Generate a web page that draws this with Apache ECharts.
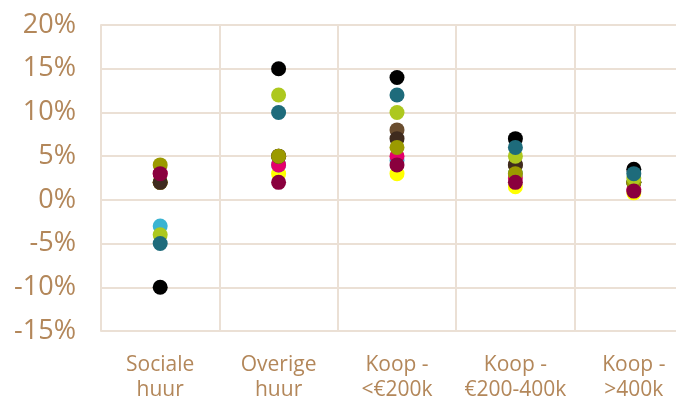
<!DOCTYPE html>
<html>
<head>
<meta charset="utf-8">
<script src="https://cdn.jsdelivr.net/npm/echarts@6/dist/echarts.min.js"></script>
<style>
  html, body { margin: 0; padding: 0; background: #fff; }
  #main { width: 676px; height: 401px; }
</style>
</head>
<body>
<div id="main"></div>
<script>
// categorieen op de x-as
var categories = ['Sociale\nhuur', 'Overige\nhuur', 'Koop -\n<€200k', 'Koop -\n€200-400k', 'Koop -\n>400k'];
var yTicks = [-15, -10, -5, 0, 5, 10, 15, 20];

// waarden per reeks (procenten), in tekenvolgorde
var zwart      = [-10, 15, 14, 7, 3.5];
var geel       = [2, 3, 3, 1.5, 0.8];
var lichtblauw = [-3, 4, 4.5, 3, 2];
var magenta    = [3, 4, 5, 2.5, 1.2];
var bruin      = [2, 5, 8, 4, 2];
var donkerbruin= [2, 5, 7, 4, 2];
var olijf      = [4, 5, 6, 3, 2];
var geelgroen  = [-4, 12, 10, 5, 2.5];
var petrol     = [-5, 10, 12, 6, 3];
var donkerrood = [3, 2, 4, 2, 1];

var textColor = '#b3875a';
var gridColor = '#ebe0d5';

var reeksen = [
  { data: zwart, color: '#000000' },
  { data: geel, color: '#ffff00' },
  { data: lichtblauw, color: '#3ab4d2' },
  { data: magenta, color: '#e4006c' },
  { data: bruin, color: '#6a4d2f' },
  { data: donkerbruin, color: '#3f2b1e' },
  { data: olijf, color: '#9b9a00' },
  { data: geelgroen, color: '#adc81e' },
  { data: petrol, color: '#1e6b7b' },
  { data: donkerrood, color: '#8a003e' }
];

window.onload = function () {
  var myChart = echarts.init(document.getElementById('main'));
  var option = {
    animation: false,
    // laatste categorie loopt buiten beeld door, net als in het origineel
    grid: { left: 101, width: 592, top: 25, bottom: 70, outerBoundsMode: 'none', containLabel: false },
    xAxis: {
      type: 'category',
      data: categories,
      axisLine: { show: true, lineStyle: { color: gridColor, width: 2 } },
      axisTick: { show: false },
      axisLabel: {
        color: textColor,
        fontFamily: 'Open Sans',
        fontSize: 21,
        lineHeight: 25,
        margin: 22,
        interval: 0
      },
      splitLine: { show: true, interval: 0, lineStyle: { color: gridColor, width: 2 } }
    },
    yAxis: {
      type: 'value',
      min: yTicks[0],
      max: yTicks[yTicks.length - 1],
      interval: 5,
      axisLine: { show: true, lineStyle: { color: gridColor, width: 2 } },
      axisTick: { show: false },
      axisLabel: {
        color: textColor,
        fontFamily: 'Open Sans',
        fontSize: 27,
        margin: 25,
        formatter: '{value}%'
      },
      splitLine: { show: true, lineStyle: { color: gridColor, width: 2 } }
    },
    series: reeksen.map(function (r) {
      return {
        type: 'scatter',
        data: r.data,
        symbolSize: 15,
        itemStyle: { color: r.color, opacity: 1 }
      };
    })
  };
  myChart.setOption(option);
};
</script>
</body>
</html>
